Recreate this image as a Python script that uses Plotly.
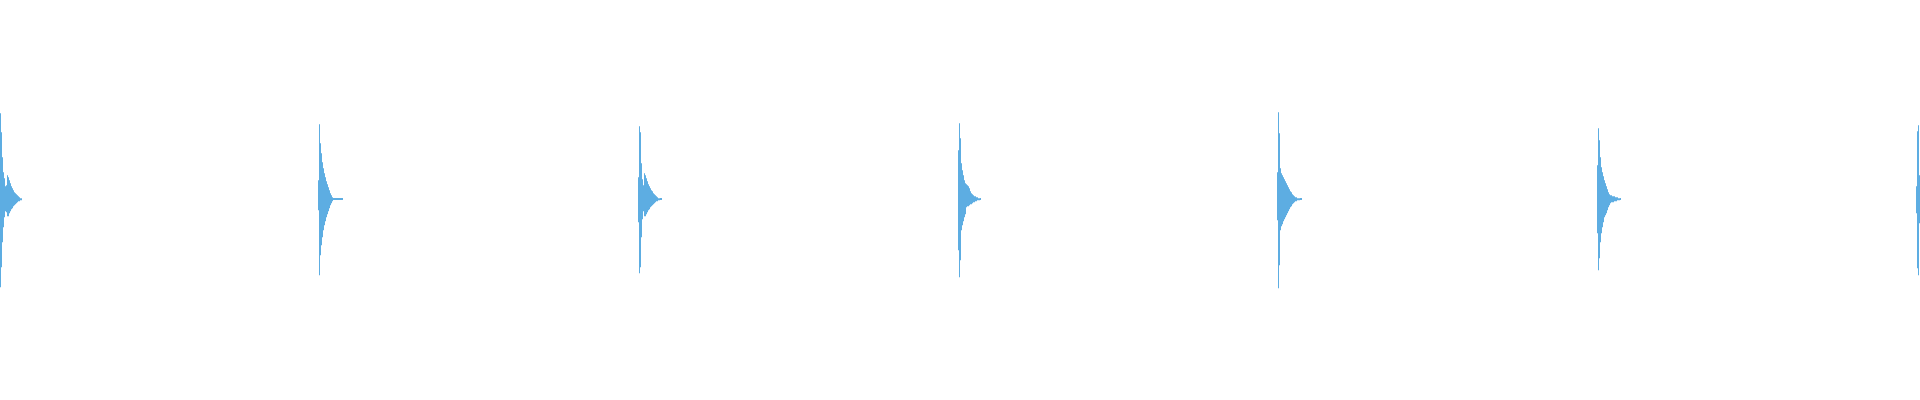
import plotly.graph_objects as go

# waveform peaks, one value per pixel column, in % of full scale
# each hit: first column index, then upper and lower peak levels per column
hit_starts = [0, 318, 638, 958, 1277, 1597, 1916]

hit1_top = [43, 33.5, 21, 13.5, 10.5, 6.5, 7, 12, 11, 9.5, 8, 6.5, 5.5, 4.5, 3.5, 3, 2.5, 2, 1.5, 1, 0.5, 0.5]
hit1_bottom = [44, 34, 21.5, 14, 9, 6, 6.5, 8.5, 8.5, 7, 6, 5, 4.5, 3.5, 3, 2.5, 2, 1.5, 1, 1, 0.5, 0.5]

hit2_top = [9.5, 37.5, 28, 23, 18.5, 15.5, 13, 11, 9, 7.5, 6, 4.5, 3, 2, 1,
            0.3, 0.3, 0.3, 0.3, 0.3, 0.3, 0.3, 0.3, 0.3, 0.3]
hit2_bottom = [5.5, 38, 28, 23, 19, 15.5, 13, 11, 9, 7.5, 6, 4.5, 3, 2, 1,
               0.3, 0.3, 0.3, 0.3, 0.3, 0.3, 0.3, 0.3, 0.3, 0.3]

hit3_top = [11, 36.5, 33.5, 18, 10, 7, 13, 12, 10.5, 9, 7.5, 6.5, 5.5, 4.5, 4, 3, 2.5, 2, 1.5, 1, 0.5, 0.5, 0.3, 0.3]
hit3_bottom = [11.5, 37, 34, 19, 10, 6, 8.5, 8.5, 7.5, 6.5, 5.5, 5, 4, 3.5, 3, 2.5, 2, 1.5, 1, 1, 0.5, 0.5, 0.3, 0.3]

hit4_top = [24.5, 38, 30.5, 18, 14.5, 12, 9.5, 8, 7.5, 7, 6.5, 5.5, 4, 3, 2.5, 2, 1.5, 1.5, 1, 1, 0.5, 0.5, 0.3]
hit4_bottom = [25.5, 39, 30.5, 15.5, 13, 11, 9, 7.5, 4, 3.5, 3.5, 3, 2.5, 2.5, 2, 1.5, 1.5, 1, 1, 0.5, 0.5, 0.5, 0.3]

hit5_top = [13.5, 43.5, 33, 15.5, 13, 12, 11, 10, 9, 8, 7, 6, 5, 4, 3.5, 2.5, 2, 1.5, 1, 1, 0.5, 0.5, 0.5, 0.3, 0.3]
hit5_bottom = [10.5, 44.5, 33, 15.5, 13.5, 12.5, 11, 10, 9, 8, 7, 6, 5, 4, 3.5, 2.5, 2, 1.5, 1, 1, 0.5, 0.5, 0.5, 0.3, 0.3]

hit6_top = [17, 35.5, 29.5, 21, 16, 13.5, 11.5, 9.5, 8, 6.5, 5, 3.5, 2.5, 2, 2, 1.5, 1.5, 1.5, 1, 1, 1, 0.5, 0.5, 0.3]
hit6_bottom = [17, 35.5, 29.5, 21.5, 17, 14, 11.5, 9, 8, 7, 5.5, 4, 3, 2, 1.5, 1.5, 1.5, 1, 1, 1, 0.5, 0.5, 0.5, 0.3]

hit7_top = [6.5, 34, 37, 12]
hit7_bottom = [7, 34.5, 38, 12]

tops = [hit1_top, hit2_top, hit3_top, hit4_top, hit5_top, hit6_top, hit7_top]
bottoms = [hit1_bottom, hit2_bottom, hit3_bottom, hit4_bottom, hit5_bottom, hit6_bottom, hit7_bottom]

cols, heights, bases = [], [], []
for start, top, bottom in zip(hit_starts, tops, bottoms):
    for i, (t, b) in enumerate(zip(top, bottom)):
        cols.append(start + i)
        heights.append(t + b)
        bases.append(-b)

fig = go.Figure(go.Bar(
    x=cols, y=heights, base=bases, width=1,
    marker=dict(color="#5DADE2", line=dict(width=0)),
    hoverinfo="skip",
))

fig.update_layout(
    width=1920, height=400,
    margin=dict(l=0, r=0, t=0, b=0),
    paper_bgcolor="white", plot_bgcolor="white",
    showlegend=False,
    xaxis=dict(range=[-0.5, 1919.5], visible=False, fixedrange=True),
    yaxis=dict(range=[-100.4, 99.6], visible=False, fixedrange=True),
)

# drop the default page margin so the plot sits flush in the window
fig.write_html("out.html", config={"displayModeBar": False},
               post_script="document.body.style.margin='0';")
